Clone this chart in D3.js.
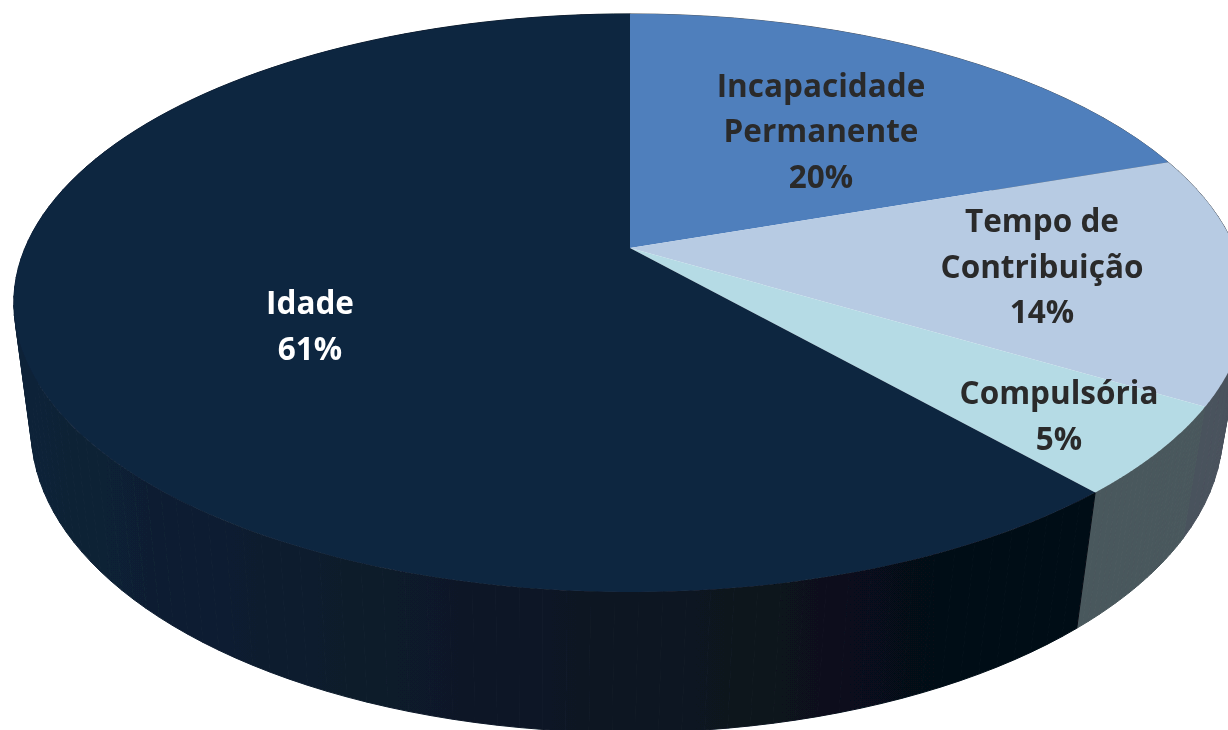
<!DOCTYPE html>
<html><head><meta charset="utf-8">
<script src="https://cdn.jsdelivr.net/npm/d3@7/dist/d3.min.js"></script>
<style>html,body{margin:0;padding:0;background:#fff;overflow:hidden}svg{display:block}
text{font-family:"Open Sans","Noto Sans",sans-serif;font-weight:700;text-anchor:middle}</style>
</head><body><svg id="c" width="1228" height="730"></svg>
<script>
const categories = ["Incapacidade Permanente","Tempo de Contribuição","Compulsória","Idade"];
// printed labels are the rounded figures below
const values = [19.7,13.9,4.95,61.45];
const labelLines = [["Incapacidade","Permanente","20%"],["Tempo de","Contribuição","14%"],["Compulsória","5%"],["Idade","61%"]];
const topColors = ["#4f7fbc","#b7cbe3","#b5dbe5","#10253f"];

// layout (not data)
const k=0.19;
const rimTop={cx:630,X:605,B:278.6,y0:248};
const rimBot={cx:627,X:585,B:292,y0:372};
const labelAnchor=[[821,96.5],[1042,232],[1059,404],[310,314]];
const labelFill=["#2a2a2c","#2a2a2c","#2a2a2c","#ffffff"];
const labelStep=45.5, fontSize=31.5;

function project(a,r){ // a: clockwise from top, projective disc
  const u=Math.sin(a), v=-Math.cos(a), d=1-k*v;
  return [r.cx+r.X*u/d, r.y0+r.B*v/d];
}
const pie=d3.pie().sort(null).value(d=>d);
const arcs=pie(values);
const svg=d3.select("#c");
const defs=svg.append("defs");
defs.append("filter").attr("id","soft").append("feGaussianBlur").attr("stdDeviation",0.7);
defs.append("filter").attr("id","soft2").append("feGaussianBlur").attr("stdDeviation",0.4);
const grad=defs.append("linearGradient").attr("id","sideIdade").attr("gradientUnits","userSpaceOnUse")
  .attr("x1",14).attr("x2",1100).attr("y1",0).attr("y2",0);
[[0,"#0f2238"],[0.25,"#0c1c2e"],[0.6,"#091521"],[0.85,"#060e18"],[1,"#040a12"]].forEach(s=>
  grad.append("stop").attr("offset",s[0]).attr("stop-color",s[1]));
const root=svg.append("g").attr("filter","url(#soft)");

const sideFill=["#4f5a68","#4a525d","#4a585d","url(#sideIdade)"];
const line=d3.line();
const rim=(s,r,n)=>d3.range(0,n+1).map(j=>project(s.startAngle+(s.endAngle-s.startAngle)*j/n,r));
const sideG=root.append("g");
arcs.forEach((s,i)=>{
  const n=i===3?120:24;
  const a=rim(s,rimTop,n), b=rim(s,rimBot,n);
  d3.range(n).forEach(j=>{
    sideG.append("path").attr("d",line([a[j],a[j+1],b[j+1],b[j]])+"Z")
      .attr("fill",sideFill[i]).attr("stroke",sideFill[i]).attr("stroke-width",1);
  });
});
// top faces
const faceG=root.append("g");
arcs.forEach((s,i)=>{
  const pts=rim(s,rimTop,180);
  pts.unshift([rimTop.cx,rimTop.y0]);
  faceG.append("path").attr("d",line(pts)+"Z").attr("fill",topColors[i]);
});
// labels
const lab=svg.append("g").attr("filter","url(#soft2)");
labelLines.forEach((ls,i)=>{
  ls.forEach((t,j)=>{
    lab.append("text").attr("x",labelAnchor[i][0]).attr("y",labelAnchor[i][1]+j*labelStep)
      .attr("font-size",fontSize).attr("fill",labelFill[i]).text(t);
  });
});
</script></body></html>
